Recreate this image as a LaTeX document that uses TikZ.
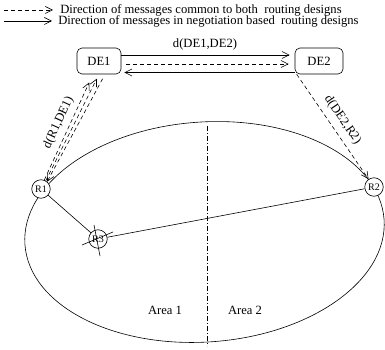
\documentclass[tikz,border=0pt]{standalone}
\usepackage{fontspec}
\setmainfont{Liberation Serif}
\usetikzlibrary{arrows.meta,positioning}

\begin{document}
\begin{tikzpicture}[
  x=1pt, y=-1pt, line width=0.6pt,
  every node/.style={inner sep=0pt, font=\fontsize{12.6}{14}\selectfont},
  debox/.style={draw, rounded corners=5pt, minimum height=26pt, minimum width=44pt},
  router/.style={draw, circle, fill=white, minimum size=18.5pt, font=\fontsize{10}{12}\selectfont},
  common/.style={dash pattern=on 4pt off 3pt},
  msg/.style={-{Straight Barb[length=7pt,width=7pt]}}
]
  \useasboundingbox (0,0) rectangle (385,350);

  \coordinate (leg1) at (4,10);
  \coordinate (leg2) at (4,21);
  \node[anchor=west] (legtxt1) at (60,10) {Direction of messages common to both~ routing designs};
  \node[anchor=west] (legtxt2) at (58,21) {Direction of messages in negotiation based~ routing designs};
  \draw[common, msg, shorten >=7pt] (leg1) -- (legtxt1.west);
  \draw[msg, shorten >=6pt] (leg2) -- (legtxt2.west);

  \node[debox] (DE1) at (99,61) {DE1};
  \node[debox, minimum width=48pt] (DE2) at (319,61) {DE2};
  \node (dde) at (205,44) {d(DE1,DE2)};

  \draw[msg, shorten >=5pt] ([yshift=6pt]DE1.east) -- ([yshift=6pt]DE2.west);
  \draw[common, msg, shorten <=5pt, shorten >=6pt] ([yshift=-3pt]DE1.east) -- ([yshift=-3pt]DE2.west);
  \draw[msg, shorten >=3pt] ([yshift=-11.5pt]DE2.west) -- ([yshift=-11.5pt]DE1.east);

  \draw[rotate around={4:(204.5,232)}] (204.5,232) ellipse [x radius=180, y radius=110];
  \coordinate (divtop) at (207,126);
  \coordinate (divbot) at (207,346);
  \draw[dash pattern=on 5pt off 2pt on 1pt off 2pt] (divtop) -- (divbot);
  \node (area1) at (165,310) {Area 1};
  \node (area2) at (245,310) {Area 2};

  \node[router] (R1) at (41,189) {R1};
  \node[router] (R2) at (374,187) {R2};
  \node[router] (R3) at (98,239) {R3};

  \draw (R1) -- (R3);
  \draw (R3) -- (R2);
  \draw (R3.center) ++(-16,6) -- ++(31,-13);
  \draw (R3.center) ++(-4,-14) -- ++(6,31);

  \draw[common, msg, shorten >=9pt] (R1.70) -- ([xshift=-6pt]DE1.south)
    node[midway, sloped, above=5pt] (dr1) {d(R1,DE1)};
  \draw[common, msg, shorten >=5pt] (R1.60) -- (DE1.south);
  \draw[common, msg, shorten <=5pt] ([xshift=6pt]DE1.south) -- (R1.50);

  \draw[common, msg] ([xshift=2pt]DE2.south west) -- (R2.125)
    node[midway, sloped, above=6pt] (dr2) {d(DE2,R2)};
\end{tikzpicture}
\end{document}
